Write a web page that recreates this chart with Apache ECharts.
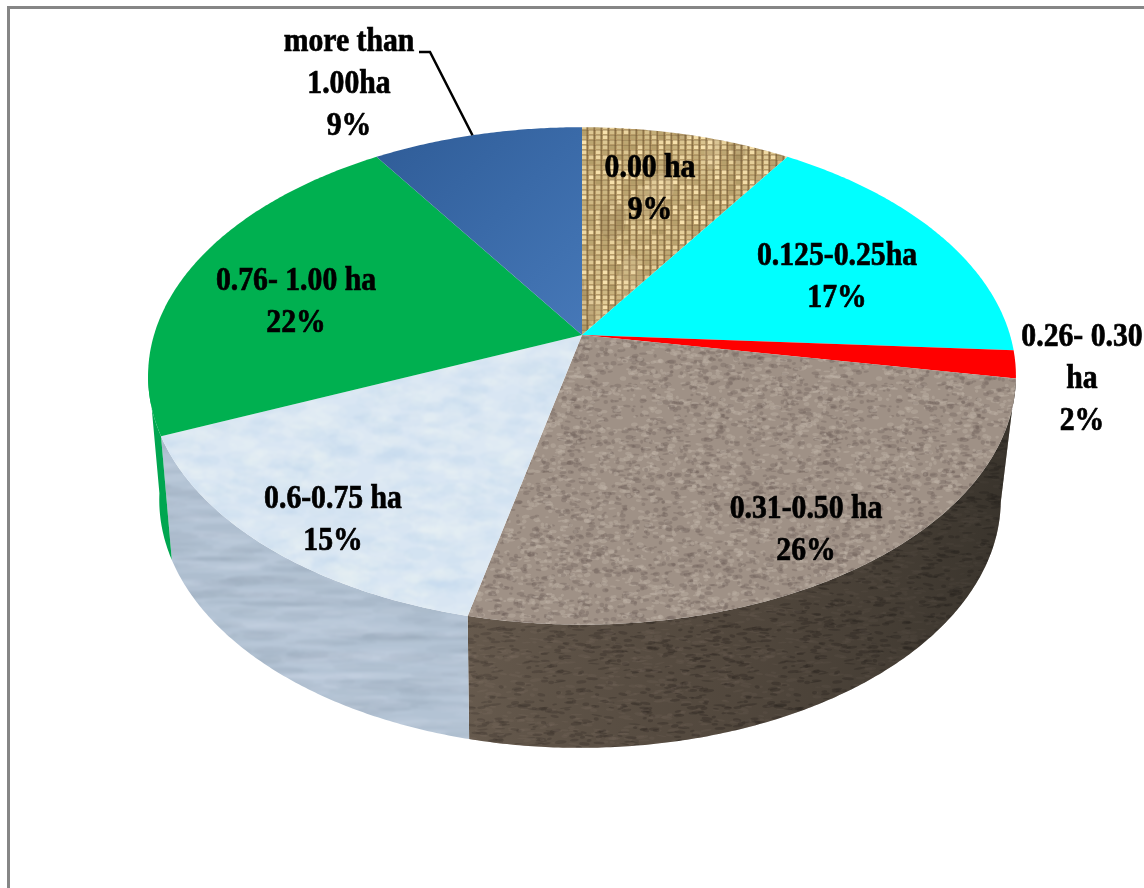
<!DOCTYPE html>
<html>
<head>
<meta charset="utf-8">
<style>html,body{margin:0;padding:0;background:#fff}#c{width:1144px;height:888px}</style>
<script src="https://cdn.jsdelivr.net/npm/echarts@6/dist/echarts.min.js"></script>
</head>
<body>
<div id="c"></div>
<script>
// ---- data (clockwise from 12 o'clock) ----
const categories = ['0.00 ha', '0.125-0.25ha', '0.26- 0.30\nha', '0.31-0.50 ha', '0.6-0.75 ha', '0.76- 1.00 ha', 'more than\n1.00ha'];
const shares = [9.2, 16.8, 1.8, 25.8, 15.0, 22.2, 9.2];

// ---- layout, kept apart from the data ----
const labelCentres = [[650,189],[837,277],[1082,379],[806,530],[333,520],[296,302],[349,84]];
const TOP = {cx:582, cy:335, A:428, B:242};
const BOTTOM = {cx:580, cy:459, A:415, B:241.3};
const K = 0.1646;

function project(p, deg){
  const t = deg*Math.PI/180, u = Math.sin(t), v = Math.cos(t), w = 1 + K*v;
  return [p.cx + p.A*u/w, p.cy - p.B*v/w];
}
function arc(p, a, b){
  const pts = [], n = Math.max(2, Math.ceil(Math.abs(b-a)*2));
  for (let i=0;i<=n;i++) pts.push(project(p, a+(b-a)*i/n));
  return pts;
}
const total = shares.reduce((a,b)=>a+b,0);
function range(i){
  let s = 0;
  for (let j=0;j<i;j++) s += shares[j];
  return [s/total*360, (s+shares[i])/total*360];
}

// ---- surface textures (deterministic, tile seamlessly, softly blurred) ----
let seed = 12345;
function rnd(){ seed = (seed*1664525 + 1013904223) % 4294967296; return seed/4294967296; }
function tex(size, blur, paint){
  const raw = document.createElement('canvas'); raw.width = raw.height = size;
  paint(raw.getContext('2d'), size);
  const big = document.createElement('canvas'); big.width = big.height = size*3;
  const bg = big.getContext('2d');
  for (let ox=0;ox<3;ox++) for (let oy=0;oy<3;oy++) bg.drawImage(raw,ox*size,oy*size);
  const c = document.createElement('canvas'); c.width = c.height = size;
  const g = c.getContext('2d');
  g.filter = 'blur('+blur+'px)';
  g.drawImage(big,-size,-size);
  return {image:c, repeat:'repeat'};
}
function blob(g,s,x,y,rw,rh,rot){
  for (let ox=-s;ox<=s;ox+=s) for (let oy=-s;oy<=s;oy+=s) {
    g.beginPath(); g.ellipse(x+ox,y+oy,rw,rh,rot,0,7); g.fill();
  }
}
const burlap = tex(245,.7,(g,s)=>{
  g.fillStyle='#b89c68'; g.fillRect(0,0,s,s);
  for(let x=0;x<s;x+=7){
    for(let y=0;y<s;y+=5){
      const l = 150+rnd()*70|0;
      g.fillStyle='rgb('+(l+30)+','+(l+8)+','+(l-45)+')';
      g.fillRect(x+1,y,4.5,4);
    }
    g.fillStyle='rgba(100,75,40,.5)'; g.fillRect(x+5.5,0,1.5,s);
  }
  for(let y=0;y<s;y+=5){ g.fillStyle='rgba(105,80,45,.28)'; g.fillRect(0,y,s,1); }
  for(let i=0;i<24;i++){
    g.fillStyle=rnd()<.5?'rgba(225,205,165,.20)':'rgba(120,95,60,.16)';
    blob(g,s,rnd()*s,rnd()*s,6+rnd()*10,10+rnd()*22,0);
  }
});
function speckle(base, light, dark, n, w, h){
  return tex(256,.6,(g,s)=>{
    g.fillStyle=base; g.fillRect(0,0,s,s);
    for(let i=0;i<n;i++){
      g.fillStyle=rnd()<.5?light:dark;
      blob(g,s,rnd()*s,rnd()*s,w*(.5+rnd()),h*(.5+rnd()),rnd()*.4-.2);
    }
  });
}
const gravel = speckle('#9f9186','rgba(190,178,166,.42)','rgba(112,98,90,.34)',2800,2.8,1.6);
const gravelWall = speckle('#5c5044','rgba(125,110,96,.26)','rgba(45,38,32,.38)',2000,4.2,1.2);
const ice = tex(256,1.2,(g,s)=>{
  g.fillStyle='#d9e6f3'; g.fillRect(0,0,s,s);
  for(let i=0;i<900;i++){
    const r=5+rnd()*12;
    g.fillStyle=rnd()<.55?'rgba(238,245,251,.14)':'rgba(190,212,235,.12)';
    blob(g,s,rnd()*s,rnd()*s,r,r*.45,0);
  }
});
const iceWall = tex(256,1.2,(g,s)=>{
  g.fillStyle='#b3c3d4'; g.fillRect(0,0,s,s);
  for(let i=0;i<420;i++){
    const r=14+rnd()*34;
    g.fillStyle=rnd()<.5?'rgba(212,225,238,.12)':'rgba(140,155,175,.12)';
    blob(g,s,rnd()*s,rnd()*s,r,2+rnd()*3,0);
  }
});
const blueFill = {type:'linear',x:380,y:127,x2:582,y2:335,global:true,
  colorStops:[{offset:0,color:'#2f5c97'},{offset:.5,color:'#3a6aa8'},{offset:1,color:'#4678b8'}]};
const topFills = [burlap,'#00ffff','#ff0000',gravel,ice,'#00b050',blueFill];
const wallFills = {3:gravelWall,4:iceWall,5:'#00a650'};
const wallShade = {
  3:{type:'linear',x:468,y:0,x2:1010,y2:0,global:true,colorStops:[{offset:0,color:'rgba(125,112,98,.30)'},{offset:.45,color:'rgba(50,46,40,.22)'},{offset:1,color:'rgba(28,28,24,.55)'}]}
};
// front part of the rim only: the wall is hidden outside this sweep
const WALL_FROM = 99, WALL_TO = 262;

function renderWall(params){
  const i = params.dataIndex; if(!wallFills[i]) return null;
  const [a0,b0] = range(i), a=Math.max(a0,WALL_FROM), b=Math.min(b0,WALL_TO);
  if (b<=a) return null;
  const pts = arc(TOP,a,b).concat(arc(BOTTOM,b,a));
  const children = [{type:'polygon',shape:{points:pts},style:{fill:wallFills[i]}}];
  if (wallShade[i]) children.push({type:'polygon',shape:{points:pts},style:{fill:wallShade[i]}});
  return {type:'group',children};
}
function renderTop(params){
  const i = params.dataIndex, [a,b] = range(i);
  const pts = [[TOP.cx,TOP.cy]].concat(arc(TOP,a,b));
  return {type:'polygon',shape:{points:pts},style:{fill:topFills[i]}};
}
function renderLabel(params){
  const i = params.dataIndex, [a,b] = range(i), c = labelCentres[i];
  const kids = [{
    type:'text', x:c[0], y:c[1], scaleX:.9, scaleY:1,
    style:{text:categories[i]+'\n'+Math.round(shares[i])+'%', fill:'#000', stroke:'#000', lineWidth:.7,
      font:'bold 33px "Liberation Serif", serif', lineHeight:42, align:'center', verticalAlign:'middle'}
  }];
  if (i === categories.length-1) {
    // leader from the label to the rim of its slice
    const rim = project(TOP, a+(b-a)*.48);
    kids.push({type:'polyline',shape:{points:[[419,52],[430,52],rim]},style:{stroke:'#000',lineWidth:2.5,fill:null}});
  }
  return {type:'group',children:kids};
}

const rows = shares.map((v,i)=>[i,v]);
const chart = echarts.init(document.getElementById('c'),null,{renderer:'canvas',width:1144,height:888});
chart.setOption({
  backgroundColor:'#ffffff',
  animation:false,
  graphic:[{type:'polyline',shape:{points:[[8.5,888],[8.5,7.5],[1144,7.5]]},style:{stroke:'#868686',lineWidth:3,fill:null},silent:true}],
  series:[
    {type:'custom',coordinateSystem:'none',data:rows,renderItem:renderWall,silent:true,z:1},
    {type:'custom',coordinateSystem:'none',data:rows,renderItem:renderTop,silent:true,z:2},
    {type:'custom',coordinateSystem:'none',data:rows,renderItem:renderLabel,silent:true,z:3}
  ]
});
</script>
</body>
</html>
